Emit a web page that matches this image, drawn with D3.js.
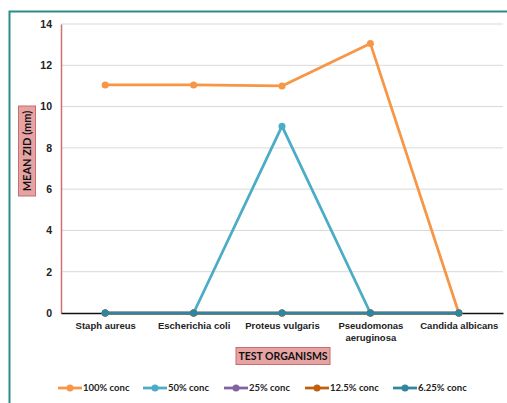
<!DOCTYPE html>
<html>
<head>
<meta charset="utf-8">
<script src="https://cdn.jsdelivr.net/npm/d3@7"></script>
<style>
  body { margin: 0; background: #fff; }
  svg { display: block; font-family: Lato, "Open Sans", sans-serif; }
</style>
</head>
<body>
<svg id="chart" width="507" height="403"></svg>
<script>
// Test organisms on the x axis
const organisms = ["Staph aureus", "Escherichia coli", "Proteus vulgaris", "Pseudomonas aeruginosa", "Candida albicans"];
// Mean zone of inhibition (mm) per concentration
const conc100 = [11.05, 11.05, 11.0, 13.05, 0];
const conc50 = [0, 0, 9.05, 0, 0];
const conc25 = [0, 0, 0, 0, 0];
const conc12_5 = [0, 0, 0, 0, 0];
const conc6_25 = [0, 0, 0, 0, 0];
const seriesNames = ["100% conc", "50% conc", "25% conc", "12.5% conc", "6.25% conc"];
const yTicks = [0, 2, 4, 6, 8, 10, 12, 14];

const seriesValues = [conc100, conc50, conc25, conc12_5, conc6_25];
const colors = ["#f79646", "#4bacc6", "#8064a2", "#c0600e", "#31859c"];
const series = seriesNames.map((n, i) => ({ name: n, values: seriesValues[i], color: colors[i] }));

const svg = d3.select("#chart");

// Outer frame
svg.append("path")
  .attr("d", "M9.5,420 V11.5 H520")
  .attr("fill", "none").attr("stroke", "#2e8b8b").attr("stroke-width", 2);

const plotLeft = 61, plotRight = 503, plotTop = 24, plotBottom = 313;

const x = d3.scalePoint().domain(organisms).range([plotLeft, plotRight]).padding(0.5);
const y = d3.scaleLinear().domain([0, 14]).range([plotBottom, plotTop]);

// Gridlines
svg.append("g").selectAll("line").data(yTicks.filter(t => t > 0)).join("line")
  .attr("x1", plotLeft).attr("x2", plotRight)
  .attr("y1", d => y(d)).attr("y2", d => y(d))
  .attr("stroke", "#d9d9d9").attr("stroke-width", 1);

// Y axis
const yAxis = svg.append("g").attr("transform", `translate(${plotLeft},0)`)
  .call(d3.axisLeft(y).tickValues(yTicks).tickSize(0).tickPadding(9));
yAxis.select(".domain").attr("stroke", "#d07070").attr("stroke-width", 1.5);
yAxis.selectAll("text").attr("font-size", 10.5).attr("font-weight", "bold").attr("fill", "#222");

// X axis
const xAxis = svg.append("g").attr("transform", `translate(0,${plotBottom})`)
  .call(d3.axisBottom(x).tickSize(0).tickPadding(9));
xAxis.select(".domain").attr("stroke", "#111").attr("stroke-width", 1.5);
xAxis.selectAll("text").attr("font-size", 9.5).attr("font-weight", "bold").attr("fill", "#222")
  .each(function(d) {
    const t = d3.select(this);
    if (d === "Pseudomonas aeruginosa") {
      t.text(null);
      t.append("tspan").attr("x", 0).attr("dy", "0.71em").text("Pseudomonas");
      t.append("tspan").attr("x", 0).attr("dy", "1.3em").text("aeruginosa");
      t.attr("dy", null);
    }
  });

// Series lines and markers
const line = d3.line().x((d, i) => x(organisms[i])).y(d => y(d));
series.forEach(s => {
  const g = svg.append("g");
  g.append("path").datum(s.values).attr("d", line)
    .attr("fill", "none").attr("stroke", s.color).attr("stroke-width", 2.75)
    .attr("stroke-linejoin", "round");
  g.selectAll("circle").data(s.values).join("circle")
    .attr("cx", (d, i) => x(organisms[i])).attr("cy", d => y(d)).attr("r", 3.5)
    .attr("fill", s.color);
});

// Axis titles in shaded boxes
const yt = svg.append("g").attr("transform", "translate(27,151) rotate(-90)");
yt.append("rect").attr("x", -45).attr("y", -8.5).attr("width", 90).attr("height", 17)
  .attr("fill", "#e6a3a3").attr("stroke", "#c76d6d").attr("stroke-width", 1);
yt.append("text").attr("text-anchor", "middle").attr("dy", "0.35em")
  .attr("font-size", 11).attr("font-weight", "bold").attr("fill", "#111").text("MEAN ZID (mm)");

const xt = svg.append("g").attr("transform", "translate(283,356)");
xt.append("rect").attr("x", -47).attr("y", -8.5).attr("width", 94).attr("height", 17)
  .attr("fill", "#e6a3a3").attr("stroke", "#c76d6d").attr("stroke-width", 1);
xt.append("text").attr("text-anchor", "middle").attr("dy", "0.35em")
  .attr("font-size", 10.5).attr("font-weight", "bold").attr("fill", "#111").text("TEST ORGANISMS");

// Legend
const legendX = [58, 143, 224, 305, 393];
const lg = svg.append("g").attr("transform", "translate(0,388)");
series.forEach((s, i) => {
  const g = lg.append("g").attr("transform", `translate(${legendX[i]},0)`);
  g.append("line").attr("x1", 0).attr("x2", 24).attr("stroke", s.color).attr("stroke-width", 2.75);
  g.append("circle").attr("cx", 12).attr("r", 3.5).attr("fill", s.color);
  g.append("text").attr("x", 25).attr("dy", "0.35em").attr("font-size", 9.5)
    .attr("font-weight", "bold").attr("fill", "#222").text(s.name);
});
</script>
</body>
</html>
